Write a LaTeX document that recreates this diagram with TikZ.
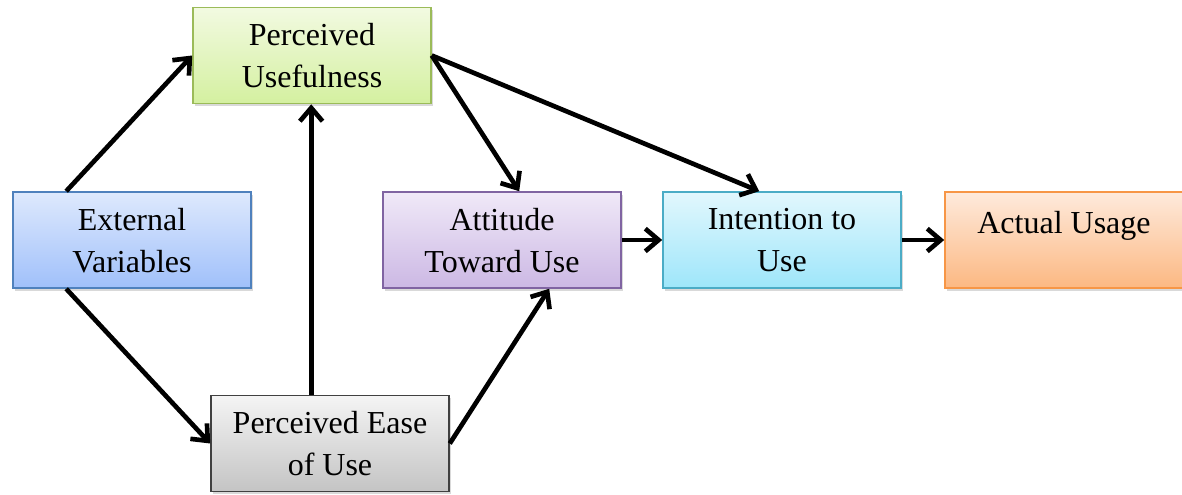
\documentclass[tikz,border=0pt]{standalone}
\usepackage{fontspec}
\setmainfont{Liberation Serif}
\usetikzlibrary{arrows.meta,calc,shadows}

\definecolor{evline}{RGB}{79,129,189}
\definecolor{puline}{RGB}{155,187,89}
\definecolor{atline}{RGB}{128,100,162}
\definecolor{inline}{RGB}{75,172,198}
\definecolor{auline}{RGB}{247,150,70}

\tikzset{
  tambox/.style={draw, line width=1.2pt, minimum width=178.5pt, minimum height=72pt,
    align=center, inner sep=0pt, font=\fontsize{24}{31.5}\selectfont,
    text depth=-6pt,
    drop shadow={opacity=0.3, shadow xshift=1.5pt, shadow yshift=-2pt}},
  tamarrow/.style={line width=3.5pt, -{Straight Barb[length=10pt, width=17pt, line width=3.5pt]}}
}

\begin{document}
\begin{tikzpicture}[x=0.75pt,y=0.75pt,yscale=-1,xscale=1]
    \useasboundingbox (0,0) rectangle (1182,495);

    % Shape: boxes
    \node [tambox, evline, top color={rgb,255:red,222;green,233;blue,253}, bottom color={rgb,255:red,160;green,192;blue,250}, text=black] (ext) at (132,240) {External\\Variables};
    \node [tambox, puline, top color={rgb,255:red,242;green,250;blue,225}, bottom color={rgb,255:red,212;green,240;blue,160}, text=black] (useful) at (312,55.5) {Perceived\\Usefulness};
    \node [tambox, black!75, top color={rgb,255:red,244;green,244;blue,244}, bottom color={rgb,255:red,196;green,196;blue,196}, text=black] (ease) at (330,443.5) {Perceived Ease\\of Use};
    \node [tambox, atline, top color={rgb,255:red,240;green,233;blue,248}, bottom color={rgb,255:red,204;green,184;blue,228}, text=black] (att) at (502,240) {Attitude\\Toward Use};
    \node [tambox, inline, top color={rgb,255:red,226;green,247;blue,253}, bottom color={rgb,255:red,158;green,230;blue,250}, text=black] (intent) at (782,240) {Intention to\\Use};
    \node [tambox, auline, text depth=4pt, top color={rgb,255:red,254;green,234;blue,220}, bottom color={rgb,255:red,252;green,184;blue,130}, text=black] (usage) at (1064,240) {Actual Usage\\[-9pt]\strut};

    % Straight Lines
    \draw [tamarrow] ($(ext.north west)+(54,0)$) -- (useful.west);
    \draw [tamarrow] ($(ext.south west)+(54,0)$) -- (ease.west);
    \draw [tamarrow] ($(ease.north west)+(101,0)$) -- ($(useful.south west)+(119,0)$);
    \draw [tamarrow] (ease.east) -- ($(att.south west)+(167,0)$);
    \draw [tamarrow] (useful.east) -- ($(att.north west)+(137,0)$);
    \draw [tamarrow] (useful.east) -- ($(intent.north west)+(97,0)$);
    \draw [tamarrow] (att.east) -- (intent.west);
    \draw [tamarrow] (intent.east) -- (usage.west);

\end{tikzpicture}
\end{document}
